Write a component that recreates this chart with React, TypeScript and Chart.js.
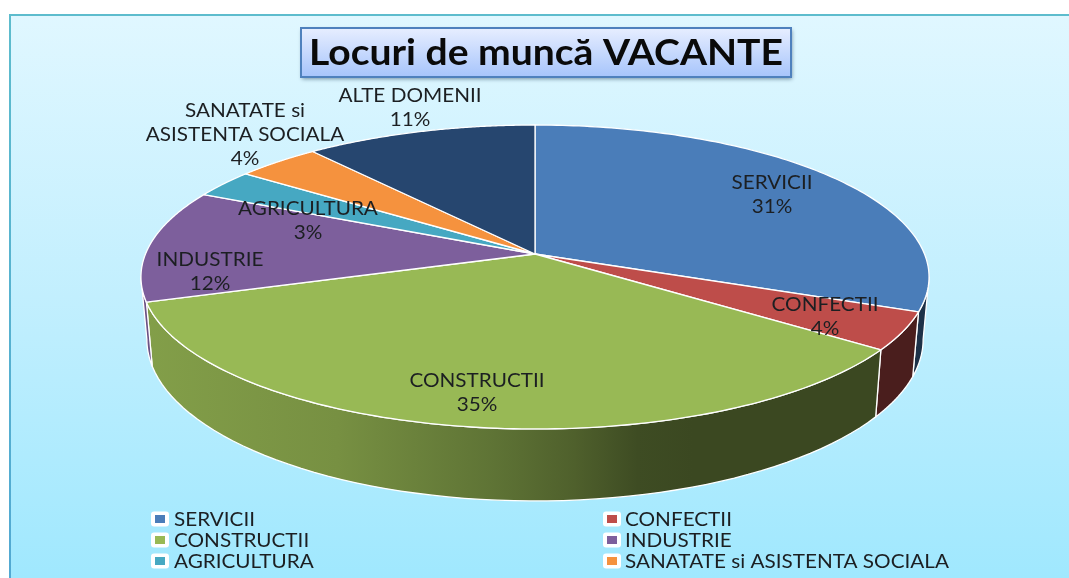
import React, { useEffect, useRef } from "react";
import { Chart, registerables } from "chart.js";

Chart.register(...registerables);

const titleText = "Locuri de muncă VACANTE";
const categories = ["SERVICII", "CONFECTII", "CONSTRUCTII", "INDUSTRIE", "AGRICULTURA", "SANATATE si ASISTENTA SOCIALA", "ALTE DOMENII"];
const shares = [31, 4, 35, 12, 3, 4, 11];
const sliceColors = ["#4a7db9", "#be4d4a", "#98b955", "#7d5f9c", "#46a8c2", "#f5923e", "#26466f"];
const legendCategories = categories.slice(0, 6);

// label layout, in the order of the categories: centre x, first line centre y
const labelLines = [["SERVICII"], ["CONFECTII"], ["CONSTRUCTII"], ["INDUSTRIE"], ["AGRICULTURA"], ["SANATATE si", "ASISTENTA SOCIALA"], ["ALTE DOMENII"]];
const labelAnchors = [[772, 183], [825, 305], [477, 381], [210, 260], [308, 209], [245, 111], [410, 96]];

const CX = 535, CY = 254, A = 389.5, B = 148.5, K = 0.1513, SHRINK = 0.985, HEIGHT = 61.1;
const FONT = "Lato";
const TEXT_STRETCH = 1.09;

function rim(a: number) {
  const w = 1 - K * Math.sin(a);
  return { x: CX + (A * Math.cos(a)) / w, y: CY + (B * Math.sin(a)) / w, w };
}
function floor(a: number) {
  const p = rim(a);
  return { x: CX + (p.x - CX) * SHRINK, y: p.y + HEIGHT / p.w };
}
function shade(hex: string, f: number) {
  const n = parseInt(hex.slice(1), 16);
  const c = (v: number) => Math.round(v * f);
  return `rgb(${c((n >> 16) & 255)},${c((n >> 8) & 255)},${c(n & 255)})`;
}
function stretchedText(ctx: CanvasRenderingContext2D, text: string, x: number, y: number, sx: number, align: CanvasTextAlign) {
  ctx.save();
  ctx.translate(x, y);
  ctx.scale(sx, 1);
  ctx.textAlign = align;
  ctx.textBaseline = "middle";
  ctx.fillText(text, 0, 0);
  ctx.restore();
}

const piePlugin = {
  id: "pie3d",
  beforeDraw(chart: any) {
    const { ctx, width, height } = chart;
    ctx.save();
    ctx.fillStyle = "#ffffff";
    ctx.fillRect(0, 0, width, height);
    const g = ctx.createLinearGradient(0, 16, 0, height);
    g.addColorStop(0, "#e0f7ff");
    g.addColorStop(0.5, "#c2effe");
    g.addColorStop(1, "#a0e8fe");
    ctx.fillStyle = g;
    ctx.fillRect(10, 15, width - 10, height - 15);
    ctx.fillStyle = "#5dbccd";
    ctx.fillRect(9, 14, width - 9, 2);
    const side = ctx.createLinearGradient(0, 14, 0, height);
    side.addColorStop(0, "#5dbccd");
    side.addColorStop(1, "#52a9d2");
    ctx.fillStyle = side;
    ctx.fillRect(9, 14, 2, height - 14);
    ctx.restore();
  },
  beforeDatasetsDraw(chart: any) {
    const { ctx } = chart;
    const arcs = chart.getDatasetMeta(0).data;
    const colors = chart.data.datasets[0].backgroundColor as string[];
    const aMin = Math.asin(K), aMax = Math.PI - aMin;
    ctx.save();
    ctx.lineJoin = "round";
    // outer wall
    arcs.forEach((arc: any, i: number) => {
      const s = Math.max(arc.startAngle, aMin), e = Math.min(arc.endAngle, aMax);
      if (e <= s) return;
      const steps = 60, top = [], bottom = [];
      for (let n = 0; n <= steps; n++) {
        const a = s + ((e - s) * n) / steps;
        top.push(rim(a));
        bottom.push(floor(a));
      }
      ctx.beginPath();
      top.forEach((p: any, n: number) => (n ? ctx.lineTo(p.x, p.y) : ctx.moveTo(p.x, p.y)));
      bottom.reverse().forEach((p: any) => ctx.lineTo(p.x, p.y));
      ctx.closePath();
      const g = ctx.createLinearGradient(140, 0, 930, 0);
      const stops = [[0, 0.86], [0.25, 0.78], [0.45, 0.62], [0.55, 0.52], [0.63, 0.41], [0.7, 0.39], [1, 0.39]];
      stops.forEach(([o, f]) => g.addColorStop(o, shade(colors[i], f)));
      ctx.fillStyle = g;
      ctx.fill();
      ctx.strokeStyle = "#ffffff";
      ctx.lineWidth = 1.3;
      ctx.stroke();
    });
    // top face
    arcs.forEach((arc: any, i: number) => {
      const s = arc.startAngle, e = arc.endAngle;
      ctx.beginPath();
      ctx.moveTo(CX, CY);
      const steps = 120;
      for (let n = 0; n <= steps; n++) {
        const p = rim(s + ((e - s) * n) / steps);
        ctx.lineTo(p.x, p.y);
      }
      ctx.closePath();
      ctx.fillStyle = colors[i];
      ctx.fill();
      ctx.strokeStyle = "#ffffff";
      ctx.lineWidth = 1.3;
      ctx.stroke();
    });
    ctx.restore();
    return false;
  },
  afterDraw(chart: any) {
    const { ctx } = chart;
    ctx.save();
    // title box
    ctx.save();
    ctx.shadowColor = "rgba(30,60,90,0.55)";
    ctx.shadowBlur = 4;
    ctx.shadowOffsetX = 1;
    ctx.shadowOffsetY = 2;
    const tg = ctx.createLinearGradient(0, 28, 0, 77);
    tg.addColorStop(0, "#e7eeff");
    tg.addColorStop(1, "#a6c4fb");
    ctx.fillStyle = tg;
    ctx.fillRect(301, 28, 490, 49);
    ctx.restore();
    ctx.strokeStyle = "#4f81bd";
    ctx.lineWidth = 2;
    ctx.strokeRect(301, 28, 490, 49);
    ctx.fillStyle = "#0a0a0a";
    ctx.font = `bold 36px ${FONT}`;
    stretchedText(ctx, titleText, 546, 53, 474 / ctx.measureText(titleText).width, "center");

    // data labels
    ctx.fillStyle = "#1c1f22";
    ctx.font = `19px ${FONT}`;
    const total = shares.reduce((t, v) => t + v, 0);
    labelLines.forEach((lines, i) => {
      const [x, y] = labelAnchors[i];
      const all = [...lines, `${Math.round((shares[i] / total) * 100)}%`];
      all.forEach((t, n) => stretchedText(ctx, t, x, y + n * 24, TEXT_STRETCH, "center"));
    });

    // legend
    legendCategories.forEach((name, i) => {
      const col = i % 2, row = Math.floor(i / 2);
      const bx = col ? 603 : 151, y = 519 + row * 21;
      ctx.fillStyle = "#ffffff";
      ctx.beginPath();
      ctx.roundRect(bx, y - 7.5, 18, 15, 3);
      ctx.fill();
      ctx.fillStyle = sliceColors[i];
      ctx.fillRect(bx + 4, y - 4, 10, 8);
      ctx.fillStyle = "#1c1f22";
      stretchedText(ctx, name, col ? 625 : 174, y + 1, TEXT_STRETCH, "left");
    });
    ctx.restore();
  },
};

export default function App() {
  const ref = useRef<HTMLCanvasElement>(null);
  useEffect(() => {
    const chart = new Chart(ref.current as HTMLCanvasElement, {
      type: "pie",
      data: {
        labels: categories,
        datasets: [{ data: shares, backgroundColor: sliceColors, borderColor: "#ffffff", borderWidth: 1 }],
      },
      options: {
        responsive: false,
        animation: false,
        plugins: { legend: { display: false }, tooltip: { enabled: false }, title: { display: false } },
      },
      plugins: [piePlugin],
    } as any);
    return () => chart.destroy();
  }, []);
  return (
    <div style={{ position: "absolute", left: 0, top: 0, width: 1069, height: 578, overflow: "hidden" }}>
      <canvas ref={ref} width={1069} height={578} style={{ display: "block", filter: "blur(0.4px)" }} />
    </div>
  );
}
